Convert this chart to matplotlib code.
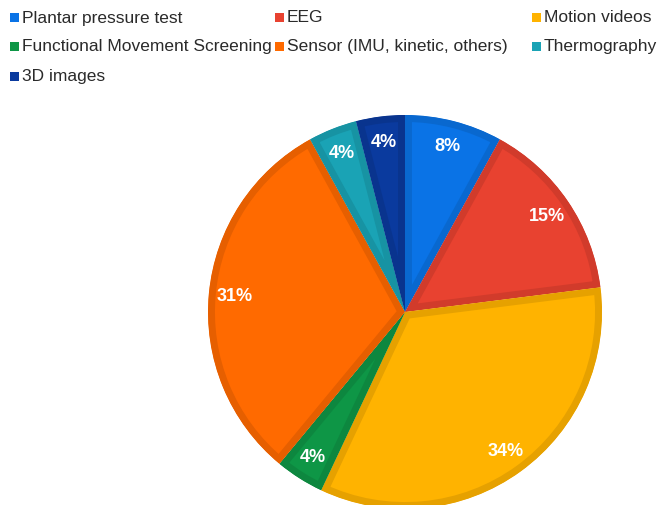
import matplotlib
matplotlib.use("Agg")
import matplotlib.pyplot as plt
from matplotlib.patches import Rectangle
from matplotlib.colors import to_rgb

plt.rcParams['font.family'] = ['Liberation Sans', 'DejaVu Sans']

categories = ["Plantar pressure test", "EEG", "Motion videos",
              "Functional Movement Screening", "Sensor (IMU, kinetic, others)",
              "Thermography", "3D images"]
shares = [8, 15, 34, 4, 31, 4, 4]
colors = ["#0A73E6", "#E84230", "#FFB300", "#0E9646", "#FF6A00", "#1AA3B5", "#0A3A9E"]

W, H = 668, 506
fig = plt.figure(figsize=(W / 100, H / 100), dpi=100)

# pie axes: centre (405, 313) px, radius 197 px
cx, cy, r = 405, 313, 197
ax = fig.add_axes([(cx - r) / W, (H - cy - r) / H, 2 * r / W, 2 * r / H])
wedges, _, autotexts = ax.pie(
    shares, colors=colors, startangle=90, counterclock=False,
    autopct=lambda p: f"{p:.0f}%", pctdistance=0.87,
    textprops=dict(color="white", fontsize=13, fontweight="bold"),
    wedgeprops=dict(linewidth=10),
)
# darker inner border on every slice (stroke clipped to the slice itself)
for w, c in zip(wedges, colors):
    edge = tuple(v * 0.9 for v in to_rgb(c))
    w.set_edgecolor(edge)
    w.set_clip_on(True)
    w.set_clip_path(w)
ax.set_xlim(-1, 1)
ax.set_ylim(-1, 1)
ax.set_aspect("equal")
ax.axis("off")

# legend laid out in three columns
col_x = [10, 275, 532]
row_y = [18, 47, 77]
for i, (name, c) in enumerate(zip(categories, colors)):
    x = col_x[i % 3]
    y = row_y[i // 3]
    sq = 9
    fig.patches.append(Rectangle((x / W, (H - y - sq / 2) / H), sq / W, sq / H,
                                 transform=fig.transFigure, facecolor=c,
                                 edgecolor="none"))
    fig.text((x + 12) / W, (H - y) / H, name, fontsize=12.5, color="#2a2a2a",
             ha="left", va="center")

fig.savefig("out.png", dpi=100, facecolor="white")
